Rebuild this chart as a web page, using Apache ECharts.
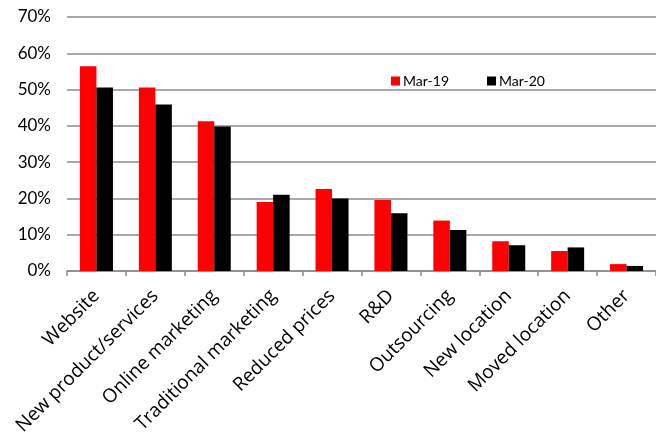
<!DOCTYPE html>
<html>
<head>
<meta charset="utf-8">
<script src="https://cdn.jsdelivr.net/npm/echarts@6/dist/echarts.min.js"></script>
<style>
  html, body { margin: 0; padding: 0; background: #fff; }
  #chart { width: 656px; height: 439px; }
</style>
</head>
<body>
<div id="chart"></div>
<script>
// categories and values (percent)
const categories = ['Website', 'New product/services', 'Online marketing', 'Traditional marketing',
  'Reduced prices', 'R&D', 'Outsourcing', 'New location', 'Moved location', 'Other'];
const mar19 = [56.4, 50.6, 41.3, 19.0, 22.6, 19.6, 13.9, 8.2, 5.5, 1.9];
const mar20 = [50.6, 45.9, 39.8, 21.0, 20.0, 15.9, 11.3, 7.1, 6.5, 1.4];
const seriesNames = ['Mar-19', 'Mar-20'];

const font = 'Lato, "Open Sans", sans-serif';
const chart = echarts.init(document.getElementById('chart'));
chart.setOption({
  animation: false,
  textStyle: { fontFamily: font },
  grid: { left: 67, right: 0, top: 17, bottom: 168, containLabel: false },
  legend: {
    data: seriesNames,
    left: 386,
    top: 69,
    itemWidth: 9,
    itemHeight: 9,
    itemGap: 38,
    icon: 'rect',
    textStyle: { fontSize: 14, color: '#000', fontFamily: font, padding: [0, 0, 0, -2] }
  },
  xAxis: {
    type: 'category',
    data: categories,
    axisLine: { lineStyle: { color: '#8c8c8c', width: 1.5 } },
    axisTick: { show: true, length: 5, lineStyle: { color: '#8c8c8c', width: 1.5 } },
    axisLabel: {
      rotate: 45, fontSize: 19, color: '#000', margin: 22, interval: 0,
      fontFamily: '"Open Sans", sans-serif'
    }
  },
  yAxis: {
    type: 'value',
    min: 0,
    max: 70,
    interval: 10,
    axisLine: { show: false },
    axisTick: { show: false },
    splitLine: { lineStyle: { color: '#8c8c8c', width: 1.5 } },
    axisLabel: { formatter: '{value}%', fontSize: 17, color: '#000', margin: 16 }
  },
  series: [
    {
      name: seriesNames[0],
      type: 'bar',
      data: mar19,
      barWidth: 16.5,
      barGap: '0%',
      itemStyle: { color: '#ff0000' }
    },
    {
      name: seriesNames[1],
      type: 'bar',
      data: mar20,
      barWidth: 16.5,
      itemStyle: { color: '#000000' }
    }
  ]
});
</script>
</body>
</html>
